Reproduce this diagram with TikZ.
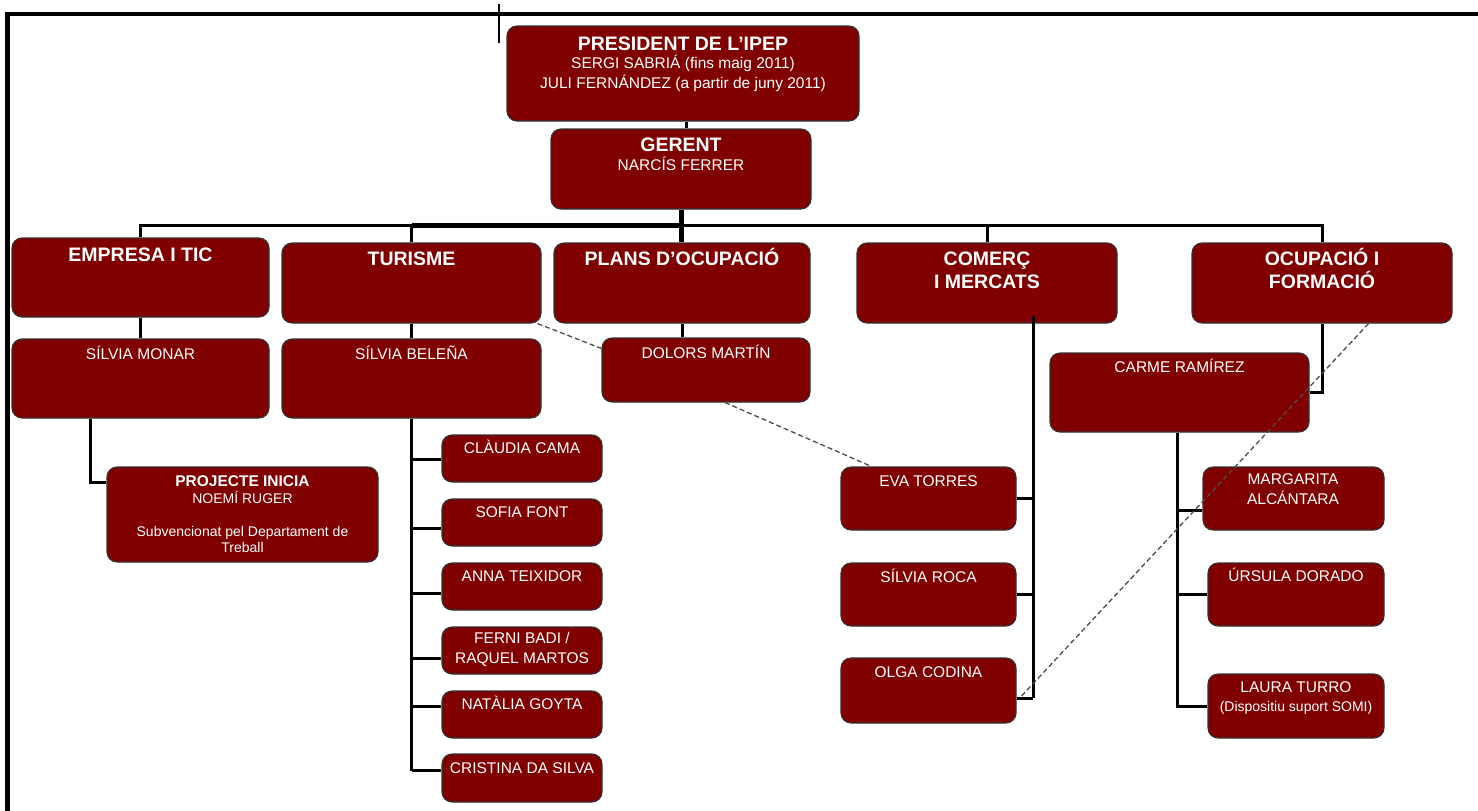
\documentclass[tikz,border=0pt]{standalone}
\usepackage{fontspec}
\setmainfont{Liberation Sans}
\definecolor{boxred}{RGB}{128,0,0}
\newcommand\orgbox[5]{\node[orgnode, minimum width={#4-#2}, minimum height={#5-#3}] (#1) at ({(#2+#4)/2},{(#3+#5)/2}) {};}
\newcommand\orgtxt[5]{\node[#2] (#1) at (#3,#4) {#5};}
\tikzset{
  orgnode/.style={draw=black!80, line width=1.1pt, fill=boxred, rounded corners=10pt, inner sep=0pt},
  txtbase/.style={text=white, anchor=base, inner sep=0pt},
  B/.style={txtbase, font=\bfseries\fontsize{19.5}{22}\selectfont},
  SB/.style={txtbase, font=\bfseries\fontsize{15.5}{18}\selectfont},
  R/.style={txtbase, font=\fontsize{15.5}{18}\selectfont},
  S/.style={txtbase, font=\fontsize{14}{16}\selectfont},
  conn/.style={draw=black, line width=3pt},
  dashlink/.style={draw=black!70, line width=1.3pt, dash pattern=on 5pt off 3pt},
}
\begin{document}
\begin{tikzpicture}[x=1pt,y=-1pt]
\useasboundingbox (0,0) rectangle (1478,811);
% frame
\draw[line width=4pt] (5,14) -- (1478,14);
\draw[line width=5pt] (7.5,12) -- (7.5,811);
\draw[line width=2pt] (499,4) -- (499,43);

% boxes
\orgbox{pres}{507}{26}{859}{121}
\orgbox{ger}{551}{129}{811}{209}
\orgbox{emp}{12}{238}{269}{317}
\orgbox{tur}{282}{243}{541}{323}
\orgbox{plans}{554}{243}{810}{323}
\orgbox{com}{857}{243}{1117}{323}
\orgbox{ocu}{1192}{243}{1452}{323}
\orgbox{mon}{12}{339}{269}{418}
\orgbox{bel}{282}{339}{541}{418}
\orgbox{dol}{602}{338}{810}{402}
\orgbox{car}{1050}{353}{1309}{432}
\orgbox{proj}{107}{467}{378}{562}
\orgbox{cla}{442}{435}{602}{482}
\orgbox{sof}{442}{499}{602}{546}
\orgbox{ann}{442}{563}{602}{610}
\orgbox{fer}{442}{627}{602}{674}
\orgbox{nat}{442}{691}{602}{738}
\orgbox{cri}{442}{754}{602}{802}
\orgbox{eva}{841}{467}{1016}{530}
\orgbox{roc}{841}{563}{1016}{626}
\orgbox{olg}{841}{658}{1016}{723}
\orgbox{mar}{1203}{467}{1384}{530}
\orgbox{urs}{1208}{563}{1384}{626}
\orgbox{lau}{1208}{674}{1384}{738}

% connectors
\coordinate (bus) at (681,225.5);
\draw[conn] (pres.south -| 686,0) -- (ger.north -| 686,0);
\draw[conn, line width=5pt] (ger.south) -- (ger.south |- plans.north);
\draw[conn] (emp.north) -- (emp.north |- bus) -- (ocu.north |- bus) -- (ocu.north);
\draw[conn, line width=5pt] (tur.north |- bus) -- (bus);
\draw[conn] (tur.north |- bus) -- (tur.north);
\draw[conn] (com.north |- bus) -- (com.north);
\draw[conn] (emp.south) -- (mon.north);
\draw[conn] ([xshift=-50.5pt]mon.south) |- ([yshift=-16pt]proj.north west);
\draw[conn] (tur.south) -- (bel.north);
\draw[conn] (bel.south) -- (bel.south |- 0,771);
\foreach \n/\yy in {cla/459,sof/528,ann/593,fer/658,nat/706,cri/770}
  \draw[conn] (bel.south |- 0,\yy) -- (\n.west |- 0,\yy);
\draw[conn] (plans.south) -- (plans.south |- dol.north);
\coordinate (cv) at (1033,316);
\draw[conn] (cv) -- (cv |- 0,698);
\draw[conn] (eva.east) -- (eva.east -| cv);
\draw[conn] (roc.east) -- (roc.east -| cv);
\draw[conn] (olg.east |- 0,698) -- (cv |- 0,698);
\draw[conn] (ocu.south) |- (car.east);
\draw[conn] ([xshift=-2.5pt]car.south) -- ([xshift=-2.5pt]car.south |- lau.west) -- (lau.west);
\draw[conn] (urs.west) -- (urs.west -| 1177,0);
\draw[conn] (mar.west |- 0,510) -- (1177,510);

% dashed links
\draw[dashlink] ([xshift=-4pt]tur.south east) -- ([yshift=-11pt]dol.north west);
\draw[dashlink] ([xshift=19pt]dol.south) -- ([xshift=31pt]eva.north west);
\draw[dashlink] ([xshift=-84pt]ocu.south east) -- ([xshift=5pt,yshift=-5.5pt]olg.east);

% texts
\orgtxt{pres-a}{B}{683}{50}{PRESIDENT DE L’IPEP}
\orgtxt{pres-b}{R}{683}{68.5}{SERGI SABRIÁ (fins maig 2011)}
\orgtxt{pres-c}{R}{683}{88.5}{JULI FERNÁNDEZ (a partir de juny 2011)}
\orgtxt{ger-a}{B}{681}{151.5}{GERENT}
\orgtxt{ger-b}{R}{681}{170}{NARCÍS FERRER}
\orgtxt{emp-a}{B}{140.5}{261.5}{EMPRESA I TIC}
\orgtxt{tur-a}{B}{411.5}{265.5}{TURISME}
\orgtxt{plans-a}{B}{682}{265.5}{PLANS D’OCUPACIÓ}
\orgtxt{com-a}{B}{987}{265.5}{COMERÇ}
\orgtxt{com-b}{B}{987}{288}{I MERCATS}
\orgtxt{ocu-a}{B}{1322}{265.5}{OCUPACIÓ I}
\orgtxt{ocu-b}{B}{1322}{288}{FORMACIÓ}
\orgtxt{mon-a}{R}{140.5}{359}{SÍLVIA MONAR}
\orgtxt{bel-a}{R}{411.5}{359}{SÍLVIA BELEÑA}
\orgtxt{dol-a}{R}{706}{358.5}{DOLORS MARTÍN}
\orgtxt{car-a}{R}{1179.5}{372.5}{CARME RAMÍREZ}
\orgtxt{proj-a}{SB}{242.5}{486}{PROJECTE INICIA}
\orgtxt{proj-b}{S}{242.5}{503}{NOEMÍ RUGER}
\orgtxt{proj-c}{S}{242.5}{536}{Subvencionat pel Departament de}
\orgtxt{proj-d}{S}{242.5}{552}{Treball}
\orgtxt{cla-a}{R}{522}{453.5}{CLÀUDIA CAMA}
\orgtxt{sof-a}{R}{522}{517}{SOFIA FONT}
\orgtxt{ann-a}{R}{522}{581}{ANNA TEIXIDOR}
\orgtxt{fer-a}{R}{522}{643}{FERNI BADI /}
\orgtxt{fer-b}{R}{522}{663}{RAQUEL MARTOS}
\orgtxt{nat-a}{R}{522}{709}{NATÀLIA GOYTA}
\orgtxt{cri-a}{R}{522}{773}{CRISTINA DA SILVA}
\orgtxt{eva-a}{R}{928.5}{486}{EVA TORRES}
\orgtxt{roc-a}{R}{928.5}{582}{SÍLVIA ROCA}
\orgtxt{olg-a}{R}{928.5}{677.5}{OLGA CODINA}
\orgtxt{mar-a}{R}{1293}{484.5}{MARGARITA}
\orgtxt{mar-b}{R}{1293}{504}{ALCÁNTARA}
\orgtxt{urs-a}{R}{1296}{581}{ÚRSULA DORADO}
\orgtxt{lau-a}{R}{1296}{692}{LAURA TURRO}
\orgtxt{lau-b}{S}{1296}{711}{(Dispositiu suport SOMI)}
\end{tikzpicture}
\end{document}
